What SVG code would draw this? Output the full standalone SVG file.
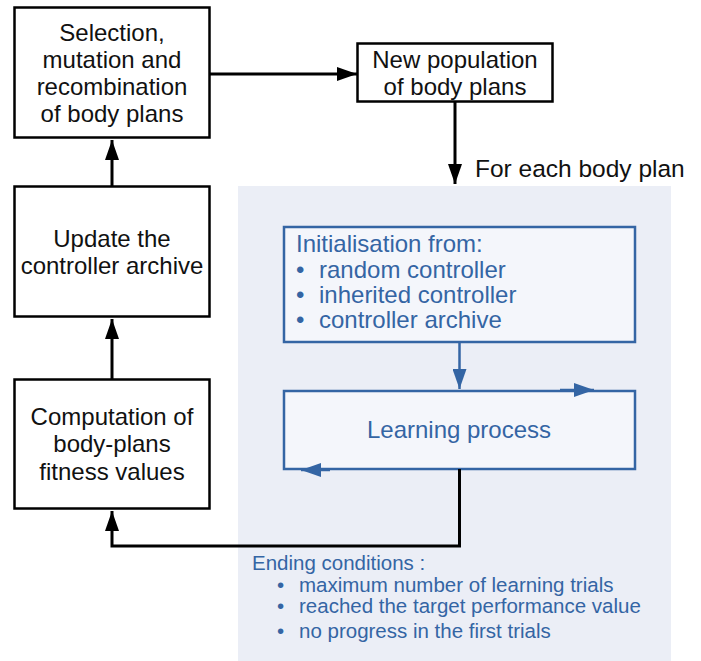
<svg xmlns="http://www.w3.org/2000/svg" width="701" height="661" viewBox="0 0 701 661">
<defs>
<style>
.box{fill:#ffffff;stroke:#000000;stroke-width:2.5}
.bbox{fill:#f4f6fb;stroke:#3465a4;stroke-width:2.5}
.t{font-family:"Liberation Sans",Arial,sans-serif;font-size:24px;fill:#111111;text-anchor:middle}
.b{font-family:"Liberation Sans",Arial,sans-serif;font-size:24px;fill:#3465a4}
.e{font-family:"Liberation Sans",Arial,sans-serif;font-size:20.5px;fill:#3465a4}
.k{fill:none;stroke:#000000;stroke-width:3}
.bl{fill:none;stroke:#3465a4;stroke-width:2.5}
</style>
<marker id="ak" viewBox="0 0 20 14" refX="20" refY="7" markerWidth="20" markerHeight="14" markerUnits="userSpaceOnUse" orient="auto">
<path d="M0,0 L20,7 L0,14 Z" fill="#000000"/>
</marker>
<marker id="ab" viewBox="0 0 20 14" refX="20" refY="7" markerWidth="20" markerHeight="14" markerUnits="userSpaceOnUse" orient="auto">
<path d="M0,0 L20,7 L0,14 Z" fill="#3465a4"/>
</marker>
</defs>
<rect x="0" y="0" width="701" height="661" fill="#ffffff"/>
<rect id="panel" x="238" y="186" width="433" height="475" fill="#ebeef6"/>

<g id="selection">
<rect class="box" x="14.5" y="7.5" width="195" height="130"/>
<text class="t" x="112" y="41">Selection,</text>
<text class="t" x="112" y="68">mutation and</text>
<text class="t" x="112" y="95">recombination</text>
<text class="t" x="112" y="122">of body plans</text>
</g>

<g id="newpop">
<rect class="box" x="357.5" y="43.5" width="195" height="58"/>
<text class="t" x="455" y="68">New population</text>
<text class="t" x="455" y="95">of body plans</text>
</g>

<g id="update">
<rect class="box" x="14.5" y="186.5" width="195" height="130"/>
<text class="t" x="112" y="247">Update the</text>
<text class="t" x="112" y="274">controller archive</text>
</g>

<g id="computation">
<rect class="box" x="14.5" y="379.5" width="195" height="129"/>
<text class="t" x="112" y="425">Computation of</text>
<text class="t" x="112" y="452">body-plans</text>
<text class="t" x="112" y="480">fitness values</text>
</g>

<g id="init">
<rect class="bbox" x="284" y="227" width="351" height="115"/>
<text class="b" x="296" y="252">Initialisation from:</text>
<text class="b" x="296" y="278">•</text><text class="b" x="319" y="278">random controller</text>
<text class="b" x="296" y="303">•</text><text class="b" x="319" y="303">inherited controller</text>
<text class="b" x="296" y="328">•</text><text class="b" x="319" y="328">controller archive</text>
</g>

<g id="learning">
<rect class="bbox" x="284" y="391" width="351" height="78"/>
<text class="b" x="459" y="438" text-anchor="middle">Learning process</text>
</g>

<g id="labels">
<text font-family="Liberation Sans,Arial,sans-serif" font-size="24.5px" fill="#111111" x="475" y="177">For each body plan</text>
<text class="e" x="252" y="570">Ending conditions :</text>
<text class="e" x="277" y="592">•</text><text class="e" x="299" y="592">maximum number of learning trials</text>
<text class="e" x="277" y="613">•</text><text class="e" x="299" y="613">reached the target performance value</text>
<text class="e" x="277" y="638">•</text><text class="e" x="299" y="638">no progress in the first trials</text>
</g>

<g id="connectors">
<line class="k" x1="210" y1="74" x2="357" y2="74" marker-end="url(#ak)"/>
<line class="k" x1="455" y1="102" x2="455" y2="184" marker-end="url(#ak)"/>
<line class="k" x1="112" y1="186" x2="112" y2="140" marker-end="url(#ak)"/>
<line class="k" x1="112" y1="379" x2="112" y2="319" marker-end="url(#ak)"/>
<polyline class="k" points="459.5,469 459.5,546 112,546 112,511" marker-end="url(#ak)"/>
<line class="bl" x1="459.5" y1="342" x2="459.5" y2="389" marker-end="url(#ab)"/>
<line class="bl" x1="560" y1="390" x2="594" y2="390" marker-end="url(#ab)"/>
<line class="bl" x1="330" y1="470" x2="301" y2="470" marker-end="url(#ab)"/>
</g>
</svg>
